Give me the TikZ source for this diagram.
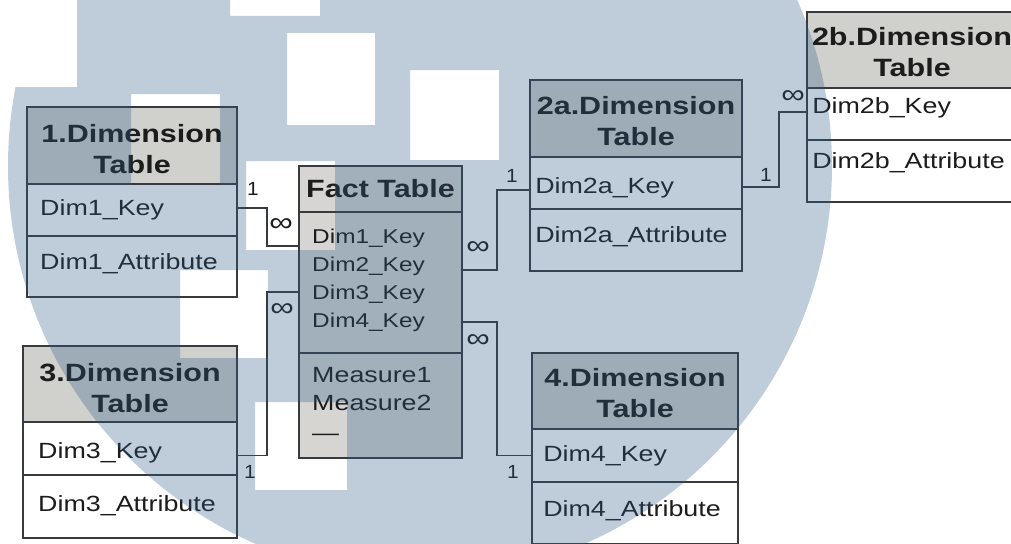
\documentclass[tikz,border=0pt]{standalone}
\usepackage{fontspec}
\setmainfont{Liberation Sans}
\definecolor{linec}{RGB}{55,58,62}
\definecolor{hdrc}{RGB}{208,208,205}
\definecolor{factc}{RGB}{214,213,210}
\definecolor{txtc}{RGB}{28,28,28}
\definecolor{wm}{RGB}{45,92,138}
\tikzset{
  tbl/.style={draw=linec, line width=2pt, fill=white, inner sep=0pt, outer sep=0pt, anchor=north west},
  hdr/.style={tbl, fill=hdrc},
  fbx/.style={tbl, fill=factc},
  htext/.style={font=\fontsize{25}{31}\selectfont\bfseries, text=txtc, align=center, xscale=1.22, inner sep=0pt},
  rtext/.style={font=\fontsize{22}{26}\selectfont, text=txtc, xscale=1.22, inner sep=0pt, anchor=west},
  ktext/.style={font=\fontsize{20}{24}\selectfont, text=txtc, xscale=1.22, inner sep=0pt, anchor=west},
  conn/.style={draw=linec, line width=1.8pt},
  onelab/.style={font=\fontsize{19}{22}\selectfont, text=txtc, xscale=1.1, inner sep=0pt},
  manylab/.style={font=\fontsize{27}{30}\selectfont, text=txtc, xscale=1.22, inner sep=0pt},
}
\begin{document}
\begin{tikzpicture}[x=1pt, y=-1pt]
\useasboundingbox (0,0) rectangle (1011,543);
\fill[white] (0,0) rectangle (1011,543);
\clip (0,0) rectangle (1011,543);

% ---------- 1. Dimension Table ----------
\node[hdr, minimum width=210pt, minimum height=77pt] (t1h) at (27,107) {};
\node[tbl, minimum width=210pt, minimum height=52pt] (t1k) at (27,184) {};
\node[tbl, minimum width=210pt, minimum height=61pt] (t1a) at (27,236) {};
\node[htext] (t1ht) at ([yshift=-4pt]t1h.center) {1.Dimension\\Table};
\node[rtext] (t1kt) at ([xshift=13pt]t1k.west) {Dim1\_Key};
\node[rtext] (t1at) at ([xshift=13pt,yshift=3pt]t1a.west) {Dim1\_Attribute};

% ---------- Fact Table ----------
\node[fbx, minimum width=163pt, minimum height=46pt] (fh) at (299,166) {};
\node[fbx, minimum width=163pt, minimum height=141pt] (fbody) at (299,212) {};
\node[fbx, minimum width=163pt, minimum height=105pt] (fmeas) at (299,353) {};
\node[htext] (fht) at (fh.center) {Fact Table};
\node[ktext] (fk1) at (312,238) {Dim1\_Key};
\node[ktext] (fk2) at (312,266) {Dim2\_Key};
\node[ktext] (fk3) at (312,294) {Dim3\_Key};
\node[ktext] (fk4) at (312,322) {Dim4\_Key};
\node[rtext] (fm1) at (312,375) {Measure1};
\node[rtext] (fm2) at (312,403) {Measure2};
\node[rtext] (fm3) at (312,437) {—};

% ---------- 2a. Dimension Table ----------
\node[hdr, minimum width=212pt, minimum height=77pt] (t2ah) at (530,80) {};
\node[tbl, minimum width=212pt, minimum height=52pt] (t2ak) at (530,157) {};
\node[tbl, minimum width=212pt, minimum height=62pt] (t2aa) at (530,209) {};
\node[htext] (t2aht) at ([yshift=-3pt]t2ah.center) {2a.Dimension\\Table};
\node[rtext] (t2akt) at ([xshift=5pt,yshift=-5pt]t2ak.west) {Dim2a\_Key};
\node[rtext] (t2aat) at ([xshift=5pt,yshift=3pt]t2aa.west) {Dim2a\_Attribute};

% ---------- 2b. Dimension Table ----------
\node[hdr, minimum width=210pt, minimum height=76pt] (t2bh) at (807,12) {};
\node[tbl, minimum width=210pt, minimum height=52pt] (t2bk) at (807,88) {};
\node[tbl, minimum width=210pt, minimum height=62pt] (t2ba) at (807,140) {};
\node[htext] (t2bht) at ([yshift=-2pt]t2bh.center) {2b.Dimension\\Table};
\node[rtext] (t2bkt) at ([xshift=5pt,yshift=6pt]t2bk.west) {Dim2b\_Key};
\node[rtext] (t2bat) at ([xshift=5pt,yshift=8pt]t2ba.west) {Dim2b\_Attribute};

% ---------- 3. Dimension Table ----------
\node[hdr, minimum width=214pt, minimum height=76pt] (t3h) at (23,346) {};
\node[tbl, minimum width=214pt, minimum height=53pt] (t3k) at (23,422) {};
\node[tbl, minimum width=214pt, minimum height=63pt] (t3a) at (23,475) {};
\node[htext] (t3ht) at ([yshift=-4pt]t3h.center) {3.Dimension\\Table};
\node[rtext] (t3kt) at ([xshift=15pt,yshift=-4pt]t3k.west) {Dim3\_Key};
\node[rtext] (t3at) at ([xshift=15pt,yshift=1pt]t3a.west) {Dim3\_Attribute};

% ---------- 4. Dimension Table ----------
\node[hdr, minimum width=206pt, minimum height=76pt] (t4h) at (532,353) {};
\node[tbl, minimum width=206pt, minimum height=53pt] (t4k) at (532,429) {};
\node[tbl, minimum width=206pt, minimum height=62pt] (t4a) at (532,482) {};
\node[htext] (t4ht) at ([yshift=-2pt]t4h.center) {4.Dimension\\Table};
\node[rtext] (t4kt) at ([xshift=11pt]t4k.west) {Dim4\_Key};
\node[rtext] (t4at) at ([xshift=11pt,yshift=2pt]t4a.west) {Dim4\_Attribute};

% ---------- connectors ----------
\draw[conn] ([yshift=2pt]t1k.east) -- ++(30,0) |- ([yshift=-8pt]fbody.west |- fk1);
\draw[conn] ([yshift=-4pt]fbody.east |- fk2) -- ++(35,0) |- ([yshift=-7pt]t2ak.west);
\draw[conn] ([yshift=-4pt]t2ak.east) -- ++(37,0) |- ([yshift=2pt]t2bk.west);
\draw[conn] ([yshift=-7pt]t3k.east) -- ++(30,0) |- ([yshift=2pt]fbody.west |- fk3);
\draw[conn] (fbody.east |- fk4) -- ++(35,0) |- (t4k.west);

% ---------- cardinality labels ----------
\node[onelab] (c1a) at (253,189) {1};
\node[manylab] (c1b) at (281,225) {∞};
\node[manylab] (c2a) at (478,248) {∞};
\node[onelab] (c2b) at (512,176) {1};
\node[onelab] (c3a) at (766,175) {1};
\node[manylab] (c3b) at (793,97) {∞};
\node[onelab] (c4a) at (250,472) {1};
\node[manylab] (c4b) at (282,310) {∞};
\node[manylab] (c5a) at (478,341) {∞};
\node[onelab] (c5b) at (513,472) {1};

% ---------- watermark ----------
\begin{scope}
  \clip (420,166) circle[radius=412pt];
  \fill[wm, opacity=0.3, even odd rule]
    (-5,-5) rectangle (1016,548)
    (-5,-5) rectangle (77,87)
    (230,-5) rectangle (320,16)
    (287,33) rectangle (375,125)
    (410,70) rectangle (499,160)
    (131,94) rectangle (220,185)
    (246,161) rectangle (335,250)
    (180,270) rectangle (268,358)
    (255,402) rectangle (347,490);
\end{scope}
\end{tikzpicture}
\end{document}
